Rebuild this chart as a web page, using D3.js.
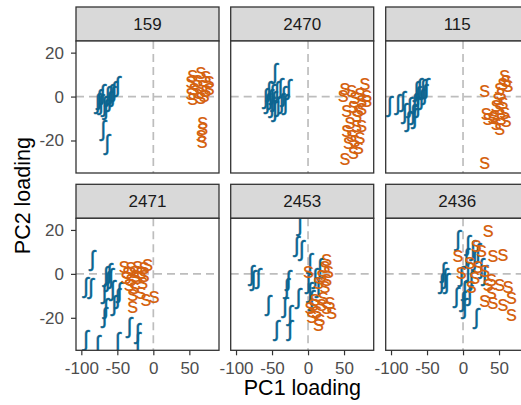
<!DOCTYPE html>
<html>
<head>
<meta charset="utf-8">
<script src="https://cdn.jsdelivr.net/npm/d3@7"></script>
<style>
  html, body { margin: 0; padding: 0; background: #fff; }
  svg { display: block; font-family: "Liberation Sans", Arial, "DejaVu Sans", sans-serif; }
</style>
</head>
<body>
<svg id="chart" width="521" height="405"></svg>
<script>
// ---- data ----
const panelIds = ["159", "2470", "115", "2471", "2453", "2436"];
const xTicks = [-100, -50, 0, 50];
const yTicks = [-20, 0, 20];
const xTitle = "PC1 loading";
const yTitle = "PC2 loading";
const labelSh = "ʃ";
const labelS = "s";

// [PC1, PC2] per token
const sh159 = [[-49.5,4.8],[-54.2,2.5],[-58.8,0.9],[-63.4,0.2],[-70.4,0.9],[-75,-1.3],[-77.3,-2.9],[-72.7,-3.6],[-68,-4.4],[-65.7,-5.9],[-61.1,-2.1],[-69.5,-15.2],[-64,-21.5],[-56.5,0.2]];
const s159 = [[54.6,9.3],[66.2,10.8],[73.1,8.6],[77.8,6.3],[52.3,6.3],[61.6,7.0],[68.5,4.8],[56.9,3.2],[73.1,2.5],[52.3,0.9],[63.9,1.7],[77.8,3.2],[54.6,-1.3],[66.2,-0.6],[70.8,0.2],[68.5,-12],[68.5,-15],[66.5,-18.1],[68,-20.9]];
const sh2470 = [[-45.8,10.8],[-54.1,2.5],[-58.8,-0.6],[-56.5,-2.9],[-49.5,0.9],[-47.2,-2.1],[-43,2.5],[-38.4,4.0],[-33.8,0.2],[-26.8,3.2],[-41.3,-4.4],[-36.7,-2.9],[-50,-5.1],[-52.3,-1.3],[-31.5,-3.6],[-45.8,-6.7]];
const s2470 = [[79.2,5.5],[51.4,3.2],[60.7,2.5],[49.1,0.2],[72.2,1.0],[81.5,0.2],[65.3,-0.6],[74.5,-2.1],[81.5,-2.1],[53.7,-6.7],[63,-5.1],[70,-6.7],[67.6,-9.0],[74.5,-5.9],[53.7,-15.8],[60.7,-18.1],[56.1,-21.1],[65.3,-20.4],[72.2,-18.9],[70,-23.4],[67.6,-13.5],[63,-25.7],[51.4,-28.7],[58.4,-12],[74.5,-13.5]];
const sh115 = [[-101.8,-4.4],[-90.3,-3.6],[-83.3,-2.1],[-80.9,-7.4],[-76.3,-11.2],[-74.1,-5.1],[-69.4,-8.2],[-67.1,-2.9],[-64.8,2.5],[-62.5,0.2],[-60.2,4.0],[-57.9,-1.3],[-55.5,3.2],[-53.2,0.9],[-50.9,4.0],[-62.5,-5.1],[-67.1,-9.7]];
const s115 = [[30.1,2.5],[30.1,-30.3],[57.9,9.3],[60.2,7.0],[55.5,5.5],[62.5,4.8],[50.9,3.2],[53.2,0.9],[48.6,-1.3],[55.5,-2.9],[46.3,-4.4],[50.9,-5.9],[57.9,-7.4],[60.2,-11.2],[32.4,-8.2],[34.7,-10.5],[41.7,-9.7],[46.3,-12.7],[50.9,-15.0],[44,-9.0],[53.2,-10.5]];
const sh2471 = [[-84.5,6.3],[-93.5,-5.9],[-86.6,-6.7],[-65.7,-1.3],[-63.4,-3.6],[-61.1,0.2],[-58.8,-2.1],[-68,-8.9],[-56.5,-7.4],[-47.2,-8.2],[-49.5,-11.2],[-54.2,-14.3],[-65.7,-15.8],[-68,-19.6],[-93.5,-30.3],[-77.3,-32.5],[-49.5,-31.0],[-33.3,-24.2],[-21.7,-27.2],[-21.7,-31.0]];
const s2471 = [[-40.3,3.2],[-31,2.5],[-21.7,3.2],[-12.5,2.5],[-7.9,4.0],[-35.6,0.2],[-26.4,0.9],[-17.1,0.2],[-38,-2.1],[-31,-2.9],[-21.7,-2.1],[-33.3,-5.1],[-14.8,-4.4],[-26.4,-6.7],[-17.1,-9.0],[-10.2,-12.0],[1.4,-10.5],[-28.7,-9.7],[-28.7,-15.0],[-24.1,-1.3],[-12.5,-1.3]];
const sh2453 = [[-11.1,22.3],[-15.7,12.4],[-8.8,10.8],[2.8,4.8],[16.7,2.5],[-78.2,-0.6],[-75.9,-2.9],[-69,-2.1],[-27.3,-2.9],[-29.6,-6.7],[-13.4,-11.2],[2.8,-8.2],[5.1,-12.0],[-55.1,-14.3],[-31.9,-15.0],[-25,-18.9],[-43.5,-25.7],[-25,-25.7],[14.4,-5.9],[9.8,-2.1],[0.5,-4.4]];
const s2453 = [[25.9,6.3],[0.5,0.9],[23.6,3.2],[28.3,0.9],[19,-1.3],[25.9,-2.9],[14.4,-4.4],[23.6,-5.9],[30.6,-13.5],[25.9,-15.8],[7.4,-14.3],[12.1,-17.3],[19,-14.3],[5.1,-19.6],[16.7,-21.1],[14.4,-23.4],[32.9,-18.1],[9.8,-12.0],[2.8,-15.8],[21.3,-11.2]];
const sh2436 = [[-7,15.4],[7,13.1],[13.9,10.8],[4.6,7.0],[16.2,6.3],[20.8,9.3],[-27.2,0.9],[-24.9,-2.1],[-22.6,-4.4],[-29.5,-4.4],[-9.3,-10.5],[2.3,-7.4],[0,-12.7],[2.3,-15.8],[9.3,-9.7],[11.6,-2.9],[7,0.9],[30.2,-0.6],[25.5,2.5],[18.5,-20.4],[-2.3,-1.3]];
const s2436 = [[34.9,19.2],[18.5,12.4],[25.5,10.1],[41.7,7.8],[55.6,8.6],[-7,7.8],[9.3,4.8],[20.8,3.2],[-2.3,0.2],[16.2,-2.1],[39.4,-2.9],[34.9,-5.1],[51.1,-5.1],[62.7,-5.9],[11.6,-5.9],[39.4,-9.0],[30.2,-12.7],[41.7,-13.5],[55.6,-14.3],[67.3,-11.2],[67.3,-18.9],[30.2,1.0]];

const shData = [sh159, sh2470, sh115, sh2471, sh2453, sh2436];
const sData = [s159, s2470, s115, s2471, s2453, s2436];

// ---- layout ----
const colLeft = [76, 230.7, 385.7];
const pw = 143, ph = 132, stripH = 34;
const plotTop = [41, 218.3];
const blue = "#0c6590", orange = "#d5620f";
const ptSize = 22;

const svg = d3.select("#chart");
const x = d3.scaleLinear().domain([-107.4, 91.2]).range([0, pw]);
const y = d3.scaleLinear().domain([-34.8, 25.3]).range([ph, 0]);

const defs = svg.append("defs");
defs.append("clipPath").attr("id", "pclip").append("rect")
  .attr("width", pw).attr("height", ph);

panelIds.forEach((id, i) => {
  const c = i % 3, r = Math.floor(i / 3);
  const gx = colLeft[c], gy = plotTop[r];
  // strip
  const sg = svg.append("g").attr("transform", `translate(${gx},${gy - stripH})`);
  sg.append("rect").attr("width", pw).attr("height", stripH)
    .attr("fill", "#d9d9d9").attr("stroke", "#333333").attr("stroke-width", 1.3);
  sg.append("text").attr("x", pw / 2).attr("y", stripH / 2).attr("dy", "0.36em")
    .attr("text-anchor", "middle").attr("font-size", 17).attr("fill", "#1a1a1a").text(id);

  const g = svg.append("g").attr("transform", `translate(${gx},${gy})`);
  g.append("rect").attr("width", pw).attr("height", ph).attr("fill", "#fff");
  const inner = g.append("g").attr("clip-path", "url(#pclip)");
  inner.append("line").attr("x1", 0).attr("x2", pw).attr("y1", y(0)).attr("y2", y(0))
    .attr("stroke", "#bdbdbd").attr("stroke-width", 1.7).attr("stroke-dasharray", "8,5");
  inner.append("line").attr("y1", 0).attr("y2", ph).attr("x1", x(0)).attr("x2", x(0))
    .attr("stroke", "#bdbdbd").attr("stroke-width", 1.7).attr("stroke-dasharray", "8,5");

  inner.selectAll("text.sh").data(shData[i]).join("text").attr("class", "sh")
    .attr("x", d => x(d[0])).attr("y", d => y(d[1])).attr("dy", "0.26em")
    .attr("text-anchor", "middle").attr("font-size", ptSize).attr("fill", blue)
    .attr("stroke", blue).attr("stroke-width", 0.3).text(labelSh);
  inner.selectAll("text.s").data(sData[i]).join("text").attr("class", "s")
    .attr("x", d => x(d[0])).attr("y", d => y(d[1])).attr("dy", "0.26em")
    .attr("text-anchor", "middle").attr("font-size", ptSize).attr("fill", orange).text(labelS);

  g.append("rect").attr("width", pw).attr("height", ph)
    .attr("fill", "none").attr("stroke", "#333333").attr("stroke-width", 1.3);

  if (c === 0) {
    const ay = g.append("g").call(d3.axisLeft(y).tickValues(yTicks).tickSize(5).tickPadding(7).tickFormat(d3.format("d")));
    ay.select(".domain").remove();
    ay.selectAll("line").attr("stroke", "#333333").attr("stroke-width", 1.2);
    ay.selectAll("text").attr("font-size", 17).attr("fill", "#4d4d4d").attr("font-family", null);
  }
  if (r === 1) {
    const ax = g.append("g").attr("transform", `translate(0,${ph})`)
      .call(d3.axisBottom(x).tickValues(xTicks).tickSize(5).tickPadding(6.5).tickFormat(d3.format("d")));
    ax.select(".domain").remove();
    ax.selectAll("line").attr("stroke", "#333333").attr("stroke-width", 1.2);
    ax.selectAll("text").attr("font-size", 17).attr("fill", "#4d4d4d").attr("font-family", null);
  }
});

// d3 axis uses a minus sign by default; use hyphen-minus like the reference
svg.selectAll(".tick text").text(function () { return this.textContent.replace("−", "-"); });

svg.append("text").attr("x", (colLeft[0] + colLeft[2] + pw) / 2).attr("y", 395)
  .attr("text-anchor", "middle").attr("font-size", 21.5).attr("fill", "#000").text(xTitle);
svg.append("text").attr("transform", `translate(30,${(plotTop[0] + plotTop[1] + ph) / 2}) rotate(-90)`)
  .attr("text-anchor", "middle").attr("font-size", 21.5).attr("fill", "#000").text(yTitle);
</script>
</body>
</html>
